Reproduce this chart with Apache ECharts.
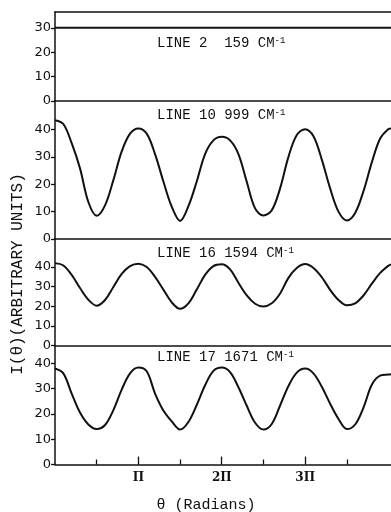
<!DOCTYPE html>
<html><head><meta charset="utf-8">
<script src="https://cdn.jsdelivr.net/npm/echarts@6/dist/echarts.min.js"></script>
<style>html,body{margin:0;padding:0;background:#fff}#c{width:391px;height:512px}</style>
</head><body><div id="c"></div>
<script>
// ---- data ----
const panelLabels = ['LINE 2  159 CM', 'LINE 10 999 CM', 'LINE 16 1594 CM', 'LINE 17 1671 CM'];
const panelSup = '-1';
const yAxisTitle = 'I(θ)(ARBITRARY UNITS)';
const xAxisTitle = 'θ (Radians)';
const xTickValues = [1, 2, 3];           // multiples of π
const xTickLabels = ['Π', '2Π', '3Π'];
const xMinorTickValues = [0.5, 1.5, 2.5, 3.5];
const yTicksTop = [0, 10, 20, 30];
const yTicks = [0, 10, 20, 30, 40];
const yMax = [36.5, 50.4, 54.3, 47];
const xMax = 4.03;

// θ in units of π
const thetaX = [0, 0.1, 0.2, 0.3, 0.4, 0.5, 0.6, 0.7, 0.8, 0.9,
                1.0, 1.1, 1.2, 1.3, 1.4, 1.5, 1.6, 1.7, 1.8, 1.9,
                2.0, 2.1, 2.2, 2.3, 2.4, 2.5, 2.6, 2.7, 2.8, 2.9,
                3.0, 3.1, 3.2, 3.3, 3.4, 3.5, 3.6, 3.7, 3.8, 3.9,
                4.0, 4.03];

const line2X = [0, 4.03];
const line2Y = [30, 30];

const line10Y = [43.4, 42.0, 35.0, 25.8, 13.5, 8.5, 12.3, 21.5, 32.0, 38.5,
                 40.4, 38.5, 31.0, 21.0, 11.8, 6.6, 12.0, 21.0, 31.0, 36.0,
                 37.3, 36.0, 31.0, 20.9, 11.2, 8.6, 10.5, 18.5, 30.0, 38.0,
                 40.1, 37.5, 29.0, 18.5, 10.0, 6.8, 9.5, 17.5, 28.0, 36.7,
                 40.2, 40.4];

const line16Y = [42.0, 40.8, 36.0, 29.3, 23.3, 20.3, 23.2, 29.8, 36.5, 40.5,
                 41.7, 40.0, 35.0, 28.5, 22.0, 18.7, 21.5, 28.5, 36.0, 40.5,
                 41.4, 38.8, 32.0, 25.5, 21.3, 19.9, 21.5, 26.5, 34.5, 39.5,
                 41.5, 39.5, 34.8, 28.4, 23.2, 20.5, 21.5, 25.5, 31.5, 37.0,
                 40.7, 41.3];

const line17Y = [37.9, 36.0, 28.0, 20.5, 15.8, 14.0, 15.6, 21.5, 29.6, 36.0,
                 38.3, 36.8, 28.0, 21.3, 17.0, 13.8, 16.8, 23.5, 31.3, 37.0,
                 38.3, 36.5, 30.5, 23.2, 16.5, 13.8, 16.0, 23.3, 31.0, 36.3,
                 37.9, 36.0, 30.7, 24.0, 18.0, 14.0, 15.8, 22.5, 31.5, 35.1,
                 35.5, 35.6];

// ---- layout ----
const INK = '#111';
const grids = [
  {left: 55, right: 0, top: 12, height: 89},
  {left: 55, right: 0, top: 101, height: 138},
  {left: 55, right: 0, top: 239, height: 106.5},
  {left: 55, right: 0, top: 345.5, height: 119}
];
const labelY = [43.5, 115.2, 253.5, 357.5];

const zip = (xs, ys) => xs.map((x, i) => [x, ys[i]]);
const seriesData = [zip(line2X, line2Y), zip(thetaX, line10Y), zip(thetaX, line16Y), zip(thetaX, line17Y)];

const tickFont = {fontFamily: 'DejaVu Sans', fontSize: 13, color: INK};

const xAxes = [], yAxes = [], series = [];
grids.forEach((g, i) => {
  xAxes.push({
    gridIndex: i, type: 'value', min: 0, max: xMax, position: 'bottom',
    axisLine: {show: true, onZero: false, lineStyle: {color: INK, width: 1.5}},
    axisTick: i === 3 ? {show: true, inside: true, length: 8, customValues: xTickValues, lineStyle: {color: INK, width: 1.3}} : {show: false},
    axisLabel: i === 3 ? {show: true, margin: 7, customValues: xTickValues,
      formatter: v => xTickLabels[xTickValues.indexOf(Math.round(v))] || '',
      fontFamily: 'DejaVu Serif', fontSize: 12, fontWeight: 'bold', color: INK} : {show: false},
    splitLine: {show: false}
  });
  const ticks = i === 0 ? yTicksTop : yTicks;
  yAxes.push({
    gridIndex: i, type: 'value', min: 0, max: yMax[i], interval: 10,
    axisLine: {show: true, onZero: false, lineStyle: {color: INK, width: 1.5}},
    axisTick: {show: true, inside: false, length: 4, customValues: ticks, lineStyle: {color: INK, width: 1.3}},
    axisLabel: {show: true, margin: 4, customValues: ticks, ...tickFont},
    splitLine: {show: false}
  });
  series.push({
    type: 'line', xAxisIndex: i, yAxisIndex: i, data: seriesData[i],
    smooth: i === 0 ? false : 0.35, showSymbol: false, symbol: 'none',
    lineStyle: {color: INK, width: 2}, silent: true, animation: false
  });
});
// top frame line of first panel
xAxes.push({
  gridIndex: 0, type: 'value', min: 0, max: xMax, position: 'top',
  axisLine: {show: true, onZero: false, lineStyle: {color: INK, width: 1.5}},
  axisTick: {show: false}, axisLabel: {show: false}, splitLine: {show: false}
});
// minor ticks of bottom panel
xAxes.push({
  gridIndex: 3, type: 'value', min: 0, max: xMax, position: 'bottom',
  axisLine: {show: false},
  axisTick: {show: true, inside: true, length: 5, customValues: xMinorTickValues, lineStyle: {color: INK, width: 1.3}},
  axisLabel: {show: false}, splitLine: {show: false}
});

const graphic = panelLabels.map((t, i) => ({
  type: 'text', x: 157, y: labelY[i], silent: true,
  style: {
    text: '{m|' + t + '}{s|' + panelSup + '}',
    fill: INK, verticalAlign: 'middle', align: 'left',
    rich: {
      m: {fontSize: 14, fontFamily: 'Liberation Mono', lineHeight: 14, padding: [4, 0, 0, 0], verticalAlign: 'bottom', fill: INK},
      s: {fontSize: 9, fontFamily: 'Liberation Mono', lineHeight: 9, verticalAlign: 'top', fill: INK}
    }
  }
}));
graphic.push({
  type: 'text', x: 18, y: 274, rotation: Math.PI / 2, silent: true,
  style: {text: yAxisTitle, font: '16px "Liberation Mono"', fill: INK, align: 'center', verticalAlign: 'middle'}
});
graphic.push({
  type: 'text', x: 206, y: 505, silent: true,
  style: {text: xAxisTitle, font: '15px "Liberation Mono"', fill: INK, align: 'center', verticalAlign: 'middle'}
});

const chart = echarts.init(document.getElementById('c'), null, {renderer: 'canvas'});
chart.setOption({
  animation: false,
  backgroundColor: '#fff',
  grid: grids,
  xAxis: xAxes,
  yAxis: yAxes,
  series: series,
  graphic: graphic
});
</script></body></html>
